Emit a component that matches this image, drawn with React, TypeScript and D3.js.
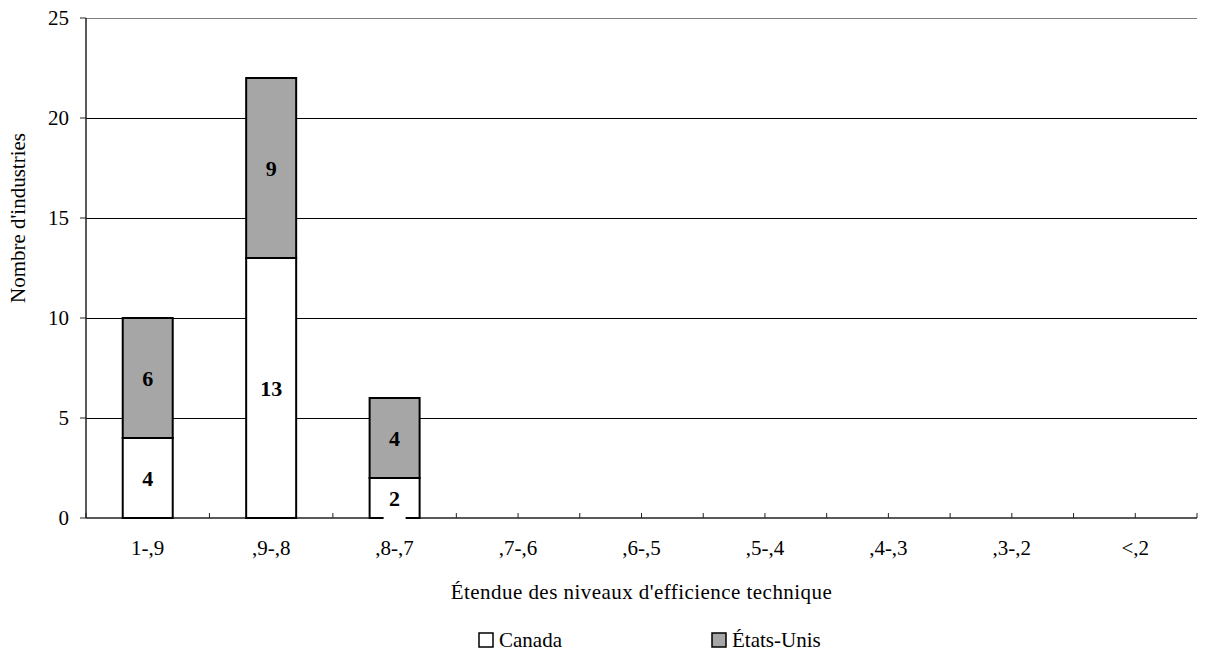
import React from 'react';
import * as d3 from 'd3';

const categories = ['1-,9', ',9-,8', ',8-,7', ',7-,6', ',6-,5', ',5-,4', ',4-,3', ',3-,2', '<,2'];
const canada = [4, 13, 2, 0, 0, 0, 0, 0, 0];
const etatsUnis = [6, 9, 4, 0, 0, 0, 0, 0, 0];
const yTicks = [0, 5, 10, 15, 20, 25];

const W = 1205;
const H = 656;
const left = 86;
const right = 1197;
const top = 18;
const bottom = 518;
const font = '"Liberation Serif", "Times New Roman", serif';
const gray = '#a6a6a6';

const App: React.FC = () => {
  const x = d3
    .scaleBand<string>()
    .domain(categories)
    .range([left, right])
    .paddingInner(0.595)
    .paddingOuter(0.2975);
  const y = d3.scaleLinear().domain([0, 25]).range([bottom, top]);
  const step = x.step();
  const bw = x.bandwidth();

  // tick marks at centers and boundaries of each category
  const xTickPos: number[] = [];
  for (let i = 0; i <= categories.length * 2; i++) xTickPos.push(left + (i * step) / 2);

  return (
    <svg width={W} height={H} style={{ position: 'absolute', left: 0, top: 0, background: '#fff' }}>
      {/* gridlines */}
      {yTicks.filter((t) => t > 0).map((t) => (
        <line key={t} x1={left} x2={right} y1={Math.round(y(t)) + 0.5} y2={Math.round(y(t)) + 0.5} stroke={t === 25 ? '#7f7f7f' : '#000'} strokeWidth={1} />
      ))}
      {/* y axis */}
      <line x1={left} x2={left} y1={top} y2={bottom} stroke="#222" strokeWidth={1.5} />
      {yTicks.map((t) => (
        <g key={t}>
          <line x1={left - 6} x2={left} y1={y(t)} y2={y(t)} stroke="#222" />
          <text x={69} y={y(t)} dy="0.35em" textAnchor="end" fontFamily={font} fontSize={21}>{t}</text>
        </g>
      ))}
      {/* x axis */}
      <line x1={left} x2={right} y1={bottom} y2={bottom} stroke="#222" strokeWidth={1.5} />
      {xTickPos.map((p, i) => (
        <line key={i} x1={p} x2={p} y1={bottom} y2={bottom - 5} stroke="#222" />
      ))}
      {/* bars */}
      {categories.map((c, i) => {
        if (canada[i] + etatsUnis[i] === 0) return null;
        const x0 = x(c) as number;
        return (
          <g key={c}>
            <rect x={x0} width={bw} y={y(canada[i])} height={y(0) - y(canada[i])} fill="#fff" stroke="#000" strokeWidth={2} />
            <rect x={x0} width={bw} y={y(canada[i] + etatsUnis[i])} height={y(canada[i]) - y(canada[i] + etatsUnis[i])} fill={gray} stroke="#000" strokeWidth={2} />
          </g>
        );
      })}
      {/* data labels */}
      {categories.map((c, i) => {
        if (canada[i] + etatsUnis[i] === 0) return null;
        const cx = (x(c) as number) + bw / 2;
        const cyC = y(canada[i] / 2);
        const cyU = y(canada[i] + etatsUnis[i] / 2);
        const lw = String(canada[i]).length * 11 + 11;
        return (
          <g key={c} fontFamily={font} fontSize={22} fontWeight="bold" textAnchor="middle">
            <rect x={cx - lw / 2} y={cyC - 17} width={lw} height={39} fill="#fff" />
            <text x={cx} y={cyC} dy="0.35em">{canada[i]}</text>
            <text x={cx} y={cyU} dy="0.35em">{etatsUnis[i]}</text>
          </g>
        );
      })}
      {/* x tick labels */}
      {categories.map((c) => (
        <text key={c} x={(x(c) as number) + bw / 2} y={548} dy="0.35em" textAnchor="middle" fontFamily={font} fontSize={21}>{c}</text>
      ))}
      {/* axis titles */}
      <text x={(left + right) / 2} y={592} dy="0.35em" textAnchor="middle" fontFamily={font} fontSize={21} letterSpacing={0.45}>Étendue des niveaux d'efficience technique</text>
      <text transform="translate(18,218) rotate(-90)" dy="0.35em" textAnchor="middle" fontFamily={font} fontSize={21}>Nombre d'industries</text>
      {/* legend */}
      <g fontFamily={font} fontSize={21}>
        <rect x={479} y={633} width={14} height={14} fill="#fff" stroke="#000" strokeWidth={1.5} />
        <text x={499} y={640} dy="0.35em">Canada</text>
        <rect x={712} y={633} width={14} height={14} fill={gray} stroke="#000" strokeWidth={1.5} />
        <text x={732} y={640} dy="0.35em">États-Unis</text>
      </g>
    </svg>
  );
};

export default App;
